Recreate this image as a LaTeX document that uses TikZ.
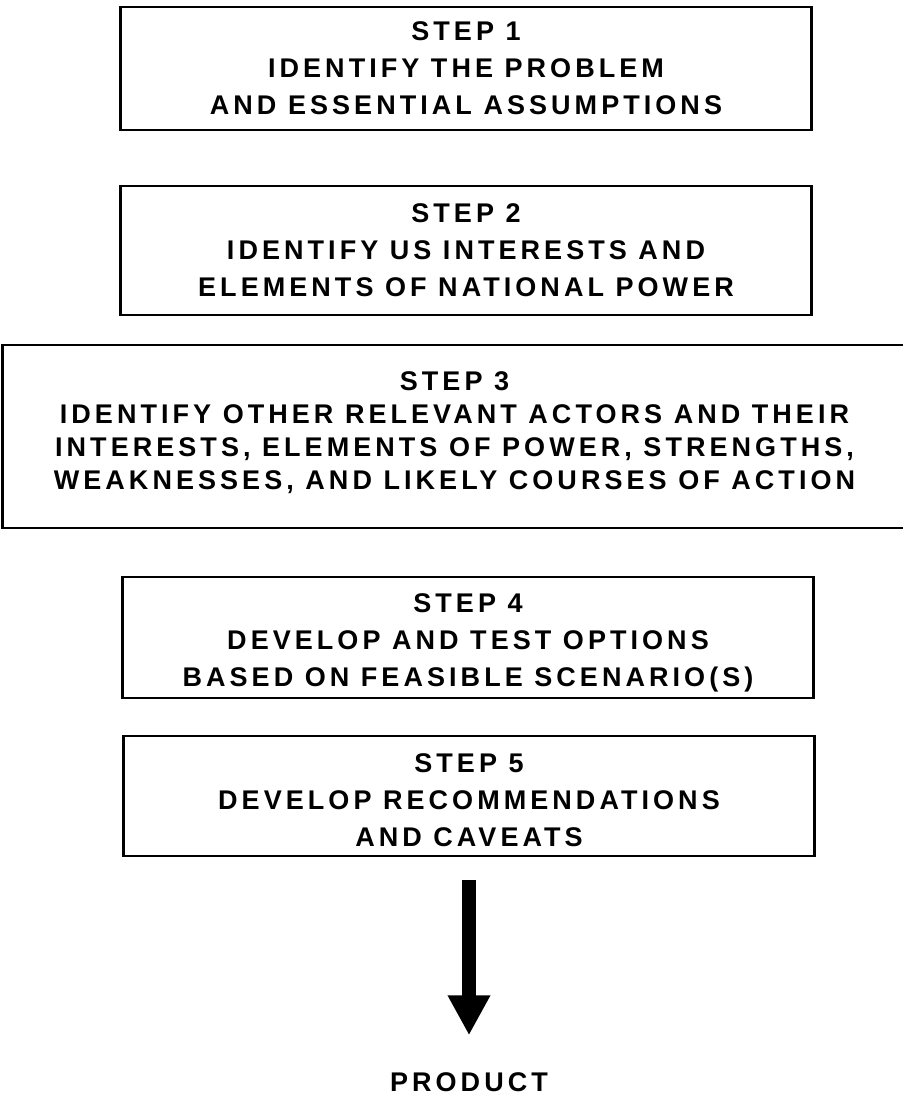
\documentclass[tikz,border=0pt]{standalone}
\usepackage{fontspec}
\usepackage{tikz}
\usetikzlibrary{arrows.meta,positioning}

\newfontfamily\stepfont{Liberation Sans}[LetterSpace=15]

\tikzset{
  stepbox/.style={draw,line width=2.6pt,minimum width=691pt,inner sep=0pt,
    align=center,font=\stepfont\bfseries\fontsize{27}{37}\selectfont},
  bigarrow/.style={line width=14pt,-{Triangle[length=40pt,width=40pt]}}
}

\begin{document}
\begin{tikzpicture}[x=1pt,y=-1pt]
    \useasboundingbox (0,0) rectangle (902,1099);
        \node(step1) at (466,68.5) [stepbox,minimum height=123pt]
            {STEP 1\\IDENTIFY THE PROBLEM\\AND ESSENTIAL ASSUMPTIONS};
        \node(step2) [stepbox,node distance=182pt,below of=step1,minimum height=129pt]
            {STEP 2\\IDENTIFY US INTERESTS AND\\ELEMENTS OF NATIONAL POWER};
        % the wide one runs off the right edge
        \node(step3) [stepbox,node distance=186pt,below of=step2,xshift=-11.5pt,
            minimum width=904pt,minimum height=183pt,
            font=\stepfont\bfseries\fontsize{27}{33}\selectfont]
            {STEP 3\\IDENTIFY OTHER RELEVANT ACTORS AND THEIR\\
             INTERESTS, ELEMENTS OF POWER, STRENGTHS,\\
             WEAKNESSES, AND LIKELY COURSES OF ACTION\rule[-12pt]{0pt}{0pt}};
        \node(step4) [stepbox,node distance=201pt,below of=step3,xshift=13.5pt,minimum height=121pt]
            {\rule{0pt}{29pt}STEP 4\\DEVELOP AND TEST OPTIONS\\BASED ON FEASIBLE SCENARIO(S)};
        \node(step5) [stepbox,node distance=158.5pt,below of=step4,xshift=1pt,minimum height=120pt]
            {\rule{0pt}{28pt}STEP 5\\DEVELOP RECOMMENDATIONS\\AND CAVEATS};
        \node(product) [node distance=286pt,below of=step5,inner sep=0pt,
            font=\stepfont\bfseries\fontsize{27}{37}\selectfont]{PRODUCT};
        \draw[bigarrow,shorten <=23pt,shorten >=37pt](step5.south) to (product.north);
    \end{tikzpicture}
\end{document}
